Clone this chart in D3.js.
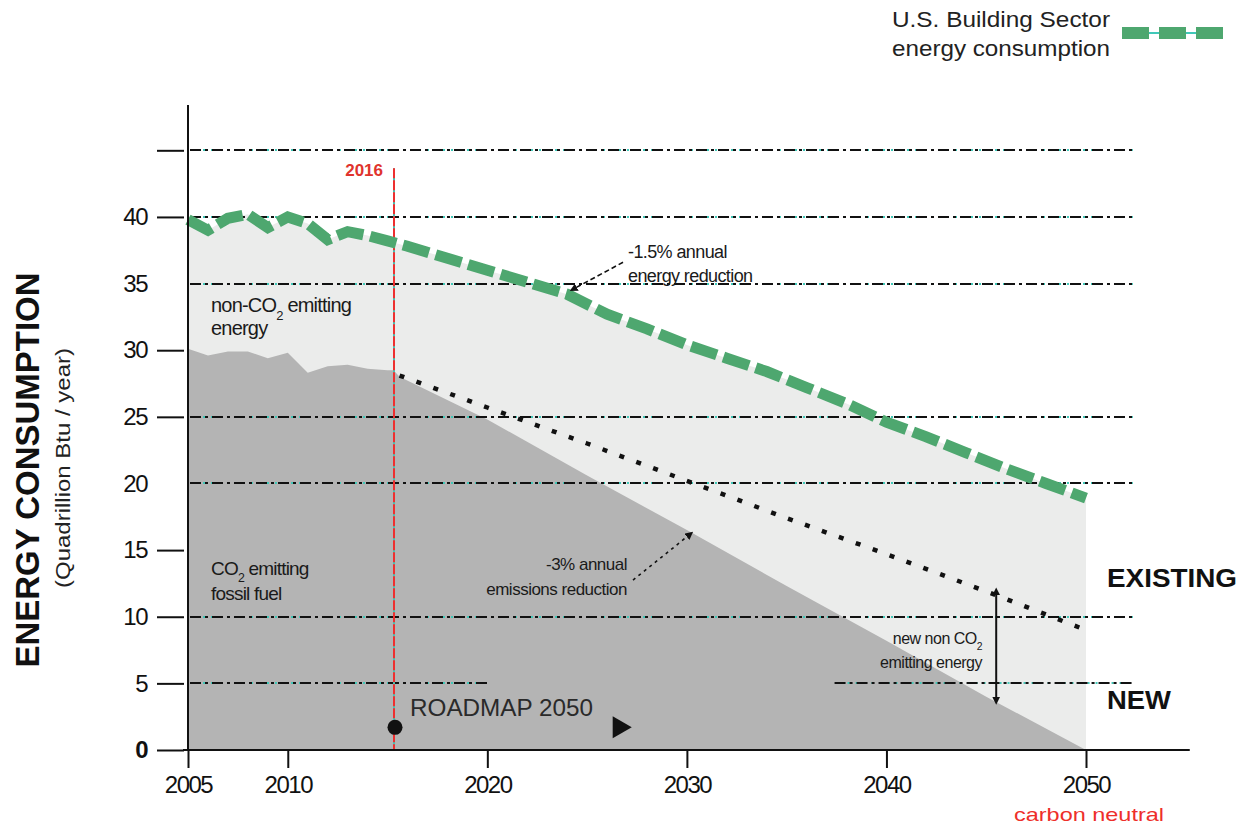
<!DOCTYPE html>
<html><head><meta charset="utf-8">
<script src="https://cdn.jsdelivr.net/npm/d3@7"></script>
<style>
body{margin:0;background:#fff}
svg{display:block;font-family:"Liberation Sans",Arial,Helvetica,sans-serif}
</style>
</head><body>
<svg id="c" width="1239" height="824"></svg>
<script>
// ---------- data ----------
const buildingYears  = [2005,2006,2007,2008,2009,2010,2011,2012,2013,2014,2015,2016,2018,2020,2022,2024,2026,2028,2030,2032,2034,2036,2038,2040,2042,2044,2046,2048,2050];
const buildingEnergy = [39.8,39.0,39.9,40.2,39.2,40.0,39.5,38.3,38.9,38.6,38.2,37.8,36.9,36.0,35.1,34.2,32.7,31.6,30.4,29.4,28.4,27.2,26.0,24.6,23.5,22.3,21.1,20.0,18.9];

const fossilYears  = [2005,2006,2007,2008,2009,2010,2011,2012,2013,2014,2015,2015.3,2015.6,2020,2025,2030,2035,2040,2045,2050];
const fossilEnergy = [30.1,29.6,29.9,29.9,29.4,29.8,28.3,28.8,28.9,28.6,28.5,28.5,28.0,24.8,20.6,16.5,12.3,8.2,4.0,0];

const targetYears  = [2015.6,2020,2025,2030,2035,2040,2045,2050];
const targetEnergy = [28.1,25.7,23.0,20.2,17.4,14.7,11.9,9.0];

const xTickYears   = [2005,2010,2020,2030,2040,2050];
const yLabelValues = [0,5,10,15,20,25,30,35,40];
const yTickValues  = [0,5,10,15,25,30,40,45];
const gridFull     = [45,40,35,25,20,10];
const gridPartial  = [5];
const gridPartialSegments = [[2005.1,2020.1],[2037.4,2052.35]];
const gridExtent   = [2005.1,2052.35];

const markerYear = 2015.3, markerLabel = "2016", markerTop = 43.65;
const roadmapLabel = "ROADMAP 2050";

// ---------- scales ----------
const svg = d3.select("#c");
const x = d3.scaleLinear().domain([2005, 2050]).range([188, 1086]);
const y = d3.scaleLinear().domain([0, 48.4]).range([750, 105]);

const bData = buildingYears.map((t,i)=>({t, v: buildingEnergy[i]}));
const fData = fossilYears.map((t,i)=>({t, v: fossilEnergy[i]}));
const tData = targetYears.map((t,i)=>({t, v: targetEnergy[i]}));

// ---------- areas ----------
const area = d3.area().x(d=>x(d.t)).y0(y(0)).y1(d=>y(d.v));
svg.append("path").datum(bData).attr("fill","#ebeceb").attr("d", area);
svg.append("path").datum(fData).attr("fill","#b4b4b4").attr("d", area);

// ---------- gridlines ----------
function gridLine(v, a, b){
  const g = svg.append("g");
  const yy = Math.round(y(v));
  g.append("line").attr("x1",x(a)).attr("x2",x(b)).attr("y1",yy).attr("y2",yy)
    .attr("stroke","#40c8b8").attr("stroke-width",2).attr("stroke-dasharray","2,6").attr("stroke-dashoffset",-13);
  g.append("line").attr("x1",x(a)).attr("x2",x(b)).attr("y1",yy).attr("y2",yy)
    .attr("stroke","#111").attr("stroke-width",2).attr("stroke-dasharray","11,4,3,4");
}
gridFull.forEach(v=>gridLine(v, gridExtent[0], gridExtent[1]));
gridPartial.forEach(v=>gridPartialSegments.forEach(s=>gridLine(v, s[0], s[1])));

// ---------- 2016 marker ----------
const mx = Math.round(x(markerYear));
svg.append("line").attr("x1",mx).attr("x2",mx).attr("y1",y(markerTop)).attr("y2",y(0))
  .attr("stroke","#40c8b8").attr("stroke-width",2);
svg.append("line").attr("x1",mx).attr("x2",mx).attr("y1",y(markerTop)).attr("y2",y(0))
  .attr("stroke","#ee2f2f").attr("stroke-width",2).attr("stroke-dasharray","10,2");
svg.append("text").attr("x",mx-11).attr("y",y(markerTop)+2).attr("dy","0.35em")
  .attr("text-anchor","end").attr("fill","#e0332d").attr("font-size",17).attr("font-weight",600)
  .text(markerLabel);

// ---------- target dotted line ----------
const line = d3.line().x(d=>x(d.t)).y(d=>y(d.v));
svg.append("path").datum(tData).attr("d",line).attr("fill","none")
  .attr("stroke","#111").attr("stroke-width",4.5).attr("stroke-dasharray","5,13");

// ---------- green consumption line ----------
svg.append("path").datum(bData).attr("d",line).attr("fill","none")
  .attr("stroke","#4ea76f").attr("stroke-width",11).attr("stroke-dasharray","27,7");

// ---------- axes ----------
const xAxis = d3.axisBottom(x).tickValues(xTickYears).tickFormat(d3.format("d")).tickSize(18).tickPadding(8);
const gx = svg.append("g").attr("transform",`translate(0,${y(0)})`).call(xAxis);
gx.select(".domain").remove();
gx.selectAll(".tick line").attr("stroke","#111").attr("stroke-width",2);
gx.selectAll(".tick text").attr("font-size",24).attr("fill","#111")
  .attr("font-family","'Liberation Sans',Arial,sans-serif").attr("letter-spacing",-1.5);
svg.append("line").attr("x1",x(2004.75)).attr("x2",x(2055.2)).attr("y1",y(0)).attr("y2",y(0))
  .attr("stroke","#111").attr("stroke-width",2);

const yLab = d3.axisLeft(y).tickValues(yLabelValues).tickSize(0).tickPadding(41);
const gyl = svg.append("g").attr("transform",`translate(${x(2005)},0)`).call(yLab);
gyl.select(".domain").remove();
gyl.selectAll(".tick text").attr("font-size",24).attr("fill","#111")
  .attr("font-family","'Liberation Sans',Arial,sans-serif").attr("letter-spacing",-1.5)
  .attr("font-weight",d=>d===0?"bold":"normal");

const yTk = d3.axisLeft(y).tickValues(yTickValues).tickFormat("").tickSize(27);
const gyt = svg.append("g").attr("transform",`translate(${x(2005)-4},0)`).call(yTk);
gyt.select(".domain").remove();
gyt.selectAll(".tick line").attr("stroke","#111").attr("stroke-width",2);

svg.append("line").attr("x1",x(2005)).attr("x2",x(2005)).attr("y1",y(48.4)).attr("y2",y(0))
  .attr("stroke","#111").attr("stroke-width",2);

// ---------- axis titles ----------
svg.append("text").attr("transform",`translate(27,470) rotate(-90)`).attr("text-anchor","middle")
  .attr("dominant-baseline","central").attr("font-size",34).attr("font-weight","bold").attr("fill","#111")
  .attr("textLength",395).attr("lengthAdjust","spacingAndGlyphs").text("ENERGY CONSUMPTION");
svg.append("text").attr("transform",`translate(63,468) rotate(-90)`).attr("text-anchor","middle")
  .attr("dominant-baseline","central").attr("font-size",20).attr("fill","#222")
  .attr("textLength",240).attr("lengthAdjust","spacingAndGlyphs").text("(Quadrillion Btu / year)");

svg.append("text").attr("x",x(2050)+3).attr("y",814).attr("dy","0.35em").attr("text-anchor","middle")
  .attr("font-size",19).attr("fill","#ee2f2a").attr("textLength",150).attr("lengthAdjust","spacingAndGlyphs")
  .text("carbon neutral");

// ---------- annotations ----------
const defs = svg.append("defs");
defs.append("marker").attr("id","ah").attr("viewBox","0 0 10 10").attr("refX",8).attr("refY",5)
  .attr("markerWidth",5).attr("markerHeight",5).attr("orient","auto-start-reverse")
  .append("path").attr("d","M0,0L10,5L0,10z").attr("fill","#111");
defs.append("marker").attr("id","bh").attr("viewBox","0 0 10 10").attr("refX",5).attr("refY",5)
  .attr("markerWidth",4).attr("markerHeight",4).attr("orient","auto-start-reverse")
  .append("path").attr("d","M0,0L10,5L0,10z").attr("fill","#111");

function txt(xp, yp, s, opts={}){
  const t = svg.append("text").attr("x",xp).attr("y",yp).attr("dy","0.35em")
    .attr("font-size",opts.size||17).attr("fill",opts.fill||"#1a1a1a")
    .attr("text-anchor",opts.anchor||"start").attr("font-weight",opts.weight||"normal");
  if(s) t.text(s);
  if(opts.len) t.attr("textLength",opts.len).attr("lengthAdjust","spacingAndGlyphs");
  if(opts.ls!==undefined) t.attr("letter-spacing",opts.ls);
  return t;
}
function co2(t, pre, post){
  t.append("tspan").text(pre+"CO");
  t.append("tspan").attr("baseline-shift","sub").attr("font-size","0.65em").text("2");
  t.append("tspan").text(post);
}

// non-CO2 emitting energy
co2(txt(211,305,"",{size:20,ls:-0.8}),"non-"," emitting");
txt(211,328,"energy",{size:20,ls:-0.8});
// CO2 emitting fossil fuel
co2(txt(211,568,"",{size:19,ls:-0.8}),""," emitting");
txt(211,593,"fossil fuel",{size:19,ls:-0.8});

// -1.5% annual energy reduction
txt(628,252,"-1.5% annual",{size:18,ls:-0.6});
txt(628,276,"energy reduction",{size:18,ls:-0.6});
svg.append("path").attr("d",line([{t:2026.8,v:36.6},{t:2024.2,v:34.5}]))
  .attr("stroke","#111").attr("stroke-width",1.6).attr("stroke-dasharray","5,3").attr("fill","none")
  .attr("marker-end","url(#ah)");

// -3% annual emissions reduction
txt(627,564,"-3% annual",{size:17,anchor:"end",ls:-0.5});
txt(627,589,"emissions reduction",{size:17,anchor:"end",ls:-0.5});
svg.append("path").attr("d",line([{t:2027.3,v:12.75},{t:2030.25,v:16.3}]))
  .attr("stroke","#111").attr("stroke-width",1.6).attr("stroke-dasharray","3,4").attr("fill","none")
  .attr("marker-end","url(#ah)");

// new non CO2 emitting energy
co2(txt(982,638,"",{size:16,anchor:"end",ls:-0.5}),"new non ","");
txt(982,662,"emitting energy",{size:16,anchor:"end",ls:-0.5});
svg.append("path").attr("d",line([{t:2045.5,v:11.9},{t:2045.5,v:3.7}]))
  .attr("stroke","#111").attr("stroke-width",2).attr("fill","none")
  .attr("marker-start","url(#bh)").attr("marker-end","url(#bh)");

// EXISTING / NEW
txt(1107,578,"EXISTING",{size:26,weight:"bold",fill:"#111",len:130});
txt(1107,700,"NEW",{size:26,weight:"bold",fill:"#111",len:64});

// ROADMAP 2050
svg.append("circle").attr("cx",mx+1).attr("cy",y(1.7)).attr("r",7.5).attr("fill","#111");
txt(410,708,roadmapLabel,{size:24,fill:"#2a2a2a",len:183});
svg.append("path").attr("d",d3.symbol(d3.symbolTriangle).size(210)())
  .attr("transform",`translate(${x(2026.6)},${y(1.7)}) rotate(90)`).attr("fill","#111");

// ---------- legend ----------
txt(892,19,"U.S. Building Sector",{size:22,fill:"#222",len:218});
txt(892,48,"energy consumption",{size:22,fill:"#222",len:218});
svg.append("line").attr("x1",1122).attr("x2",1223).attr("y1",33).attr("y2",33)
  .attr("stroke","#40c8b8").attr("stroke-width",2);
svg.append("line").attr("x1",1122).attr("x2",1223).attr("y1",33).attr("y2",33)
  .attr("stroke","#4ea76f").attr("stroke-width",12).attr("stroke-dasharray","27,10");
</script>
</body></html>
